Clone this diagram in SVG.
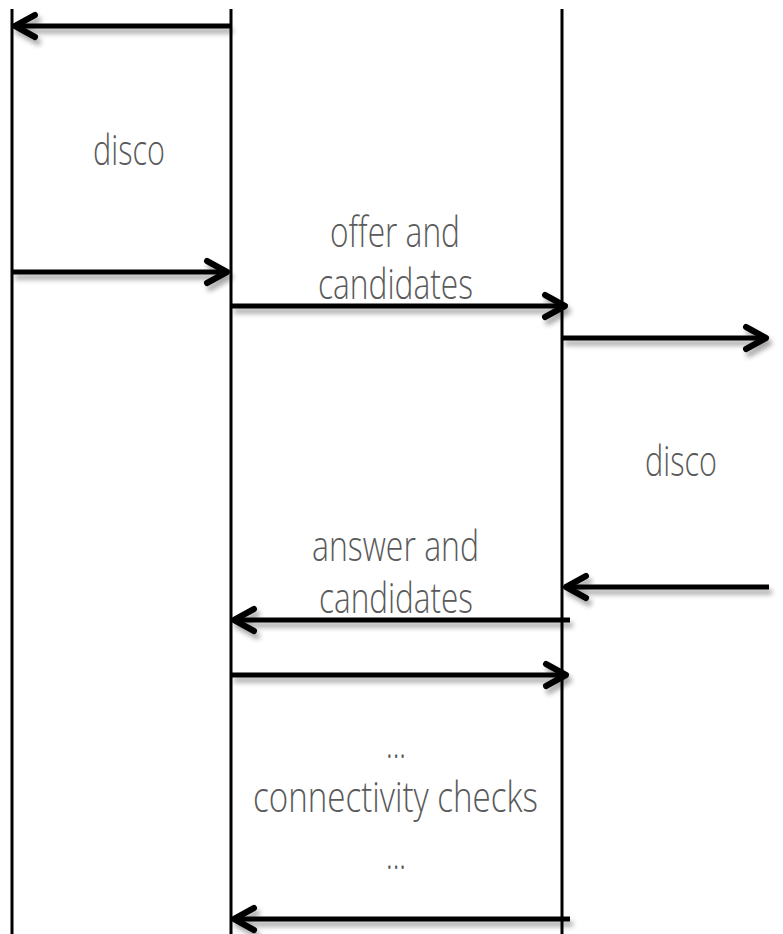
<svg xmlns="http://www.w3.org/2000/svg" width="783" height="934" viewBox="0 0 783 934">
<style>
.life{stroke:#000;stroke-width:3;fill:none}
.msg{stroke:#000;stroke-width:5;fill:none;marker-end:url(#head)}
.lbl{font-family:"Open Sans","DejaVu Sans",sans-serif;font-weight:300;font-size:42px;fill:#5a5a5a}
</style>
<defs>
<filter id="sh" filterUnits="userSpaceOnUse" x="0" y="0" width="783" height="934">
<feDropShadow dx="3" dy="5" stdDeviation="2.5" flood-color="#000" flood-opacity="0.35"/>
</filter>
<marker id="head" markerUnits="userSpaceOnUse" viewBox="-26 -16 30 32" refX="0" refY="0" markerWidth="30" markerHeight="32" orient="auto" overflow="visible">
<path d="M-20,-11 L0,0 L-20,11" fill="none" stroke="#000" stroke-width="6" stroke-linecap="round" stroke-linejoin="round"/>
</marker>
</defs>
<rect width="783" height="934" fill="#fff"/>
<g id="lifelines">
<line id="lane-a" class="life" x1="12" y1="9" x2="12" y2="934"/>
<line id="lane-b" class="life" x1="231" y1="9" x2="231" y2="934"/>
<line id="lane-c" class="life" x1="562" y1="9" x2="562" y2="934"/>
</g>
<g id="connectors" filter="url(#sh)">
<line class="msg" x1="230" y1="26" x2="15" y2="26"/>
<line class="msg" x1="12" y1="272" x2="227" y2="272"/>
<line class="msg" x1="231" y1="306" x2="565" y2="306"/>
<line class="msg" x1="562" y1="338" x2="766" y2="338"/>
<line class="msg" x1="769" y1="587" x2="566" y2="587"/>
<line class="msg" x1="570" y1="620" x2="234" y2="620"/>
<line class="msg" x1="231" y1="675" x2="566" y2="675"/>
<line class="msg" x1="570" y1="919" x2="234" y2="919"/>
</g>
<g id="labels">
<text class="lbl" x="93" y="165" textLength="72" lengthAdjust="spacingAndGlyphs">disco</text>
<text class="lbl" x="330" y="247" textLength="130" lengthAdjust="spacingAndGlyphs">offer and</text>
<text class="lbl" x="318" y="299" textLength="155" lengthAdjust="spacingAndGlyphs">candidates</text>
<text class="lbl" x="645" y="476" textLength="72" lengthAdjust="spacingAndGlyphs">disco</text>
<text class="lbl" x="312" y="561" textLength="167" lengthAdjust="spacingAndGlyphs">answer and</text>
<text class="lbl" x="319" y="613" textLength="154" lengthAdjust="spacingAndGlyphs">candidates</text>
<text class="lbl" x="386" y="758" textLength="20" lengthAdjust="spacingAndGlyphs">...</text>
<text class="lbl" x="253" y="812" textLength="285" lengthAdjust="spacingAndGlyphs">connectivity checks</text>
<text class="lbl" x="386" y="869" textLength="20" lengthAdjust="spacingAndGlyphs">...</text>
</g>
</svg>
